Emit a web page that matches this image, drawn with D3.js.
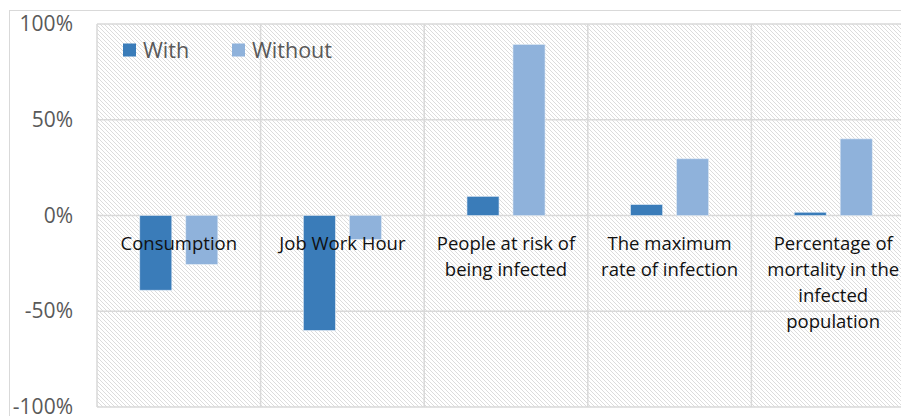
<!DOCTYPE html>
<html><head><meta charset="utf-8">
<script src="https://cdn.jsdelivr.net/npm/d3@7"></script>
<style>body{margin:0;background:#fff}svg{display:block}</style>
</head><body>
<svg id="c" width="901" height="416"></svg>
<script>
const categories = ["Consumption", "Job Work Hour", "People at risk of\nbeing infected", "The maximum\nrate of infection", "Percentage of\nmortality in the\ninfected\npopulation"];
const seriesNames = ["With", "Without"];
const withValues = [-0.39, -0.60, 0.10, 0.057, 0.017];
const withoutValues = [-0.255, -0.125, 0.893, 0.296, 0.40];
const yTicks = [-1, -0.5, 0, 0.5, 1];
const yTickLabels = ["-100%", "-50%", "0%", "50%", "100%"];
const colors = ["#3a7cb9", "#8fb2db"];

(function(){
const svg = d3.select("#c");
const mLeft = 97, mTop = 24, mBottom = 407, mRight = 915;
const font = "'Open Sans', sans-serif";

const defs = svg.append("defs");
const pat = defs.append("pattern").attr("id","hatch").attr("patternUnits","userSpaceOnUse")
  .attr("width",4).attr("height",4);
pat.append("rect").attr("width",4).attr("height",4).attr("fill","#ffffff");
pat.append("path").attr("d","M-1,-1 L5,5 M-1,3 L1,5 M3,-1 L5,1").attr("stroke","#dcdcdc").attr("stroke-width",1);

svg.append("rect").attr("x",9.5).attr("y",10.5).attr("width",1000).attr("height",1000)
  .attr("fill","#fff").attr("stroke","#d9d9d9").attr("stroke-width",1);

const x = d3.scaleBand().domain(categories).range([mLeft, mRight]).padding(0);
const xs = d3.scaleBand().domain(seriesNames).range([0, x.bandwidth()]).paddingInner(0.304).paddingOuter(0.93);
const y = d3.scaleLinear().domain([-1, 1]).range([mBottom, mTop]);

svg.append("rect").attr("x",mLeft).attr("y",mTop).attr("width",mRight-mLeft).attr("height",mBottom-mTop)
  .attr("fill","url(#hatch)");

const g = svg.append("g");
g.selectAll("line.h").data(yTicks).join("line").attr("class","h")
  .attr("x1",mLeft).attr("x2",mRight).attr("y1",d=>y(d)).attr("y2",d=>y(d))
  .attr("stroke","#d9d9d9").attr("stroke-width",1.5);
const vb = categories.map(c=>x(c)).concat([mRight]);
g.selectAll("line.v").data(vb).join("line").attr("class","v")
  .attr("x1",d=>d).attr("x2",d=>d).attr("y1",mTop).attr("y2",mBottom)
  .attr("stroke","#d9d9d9").attr("stroke-width",1.5);

const data = [];
categories.forEach((c,i)=>{
  data.push({c, s:"With", v:withValues[i], col:colors[0]});
  data.push({c, s:"Without", v:withoutValues[i], col:colors[1]});
});
svg.append("g").selectAll("rect").data(data).join("rect")
  .attr("x",d=>x(d.c)+xs(d.s)).attr("width",xs.bandwidth())
  .attr("y",d=>Math.min(y(d.v),y(0))).attr("height",d=>Math.abs(y(d.v)-y(0)))
  .attr("fill",d=>d.col).attr("stroke","#dfe9f4").attr("stroke-width",0.6);

const yAxis = d3.axisLeft(y).tickValues(yTicks).tickFormat((d,i)=>yTickLabels[i]).tickSize(0).tickPadding(0);
const ya = svg.append("g").attr("transform",`translate(${73},0)`).call(yAxis);
ya.select(".domain").remove();
ya.selectAll("text").attr("font-family",font).attr("font-size",21).attr("fill","#595959");

const lab = svg.append("g");
categories.forEach(c=>{
  const lines = c.split("\n");
  const t = lab.append("text").attr("text-anchor","middle").attr("font-family",font)
    .attr("font-size",18.5).attr("fill","#111");
  lines.forEach((l,j)=>{
    t.append("tspan").attr("x",x(c)+x.bandwidth()/2).attr("y",y(0)+34+j*26).text(l);
  });
});

const leg = svg.append("g");
const legX = [123, 232];
seriesNames.forEach((s,i)=>{
  leg.append("rect").attr("x",legX[i]).attr("y",43.5).attr("width",13).attr("height",13).attr("fill",colors[i]);
  leg.append("text").attr("x",legX[i]+20).attr("y",57.5).attr("font-family",font).attr("font-size",21.5)
    .attr("fill","#595959").text(s);
});
})();
</script>
</body></html>
